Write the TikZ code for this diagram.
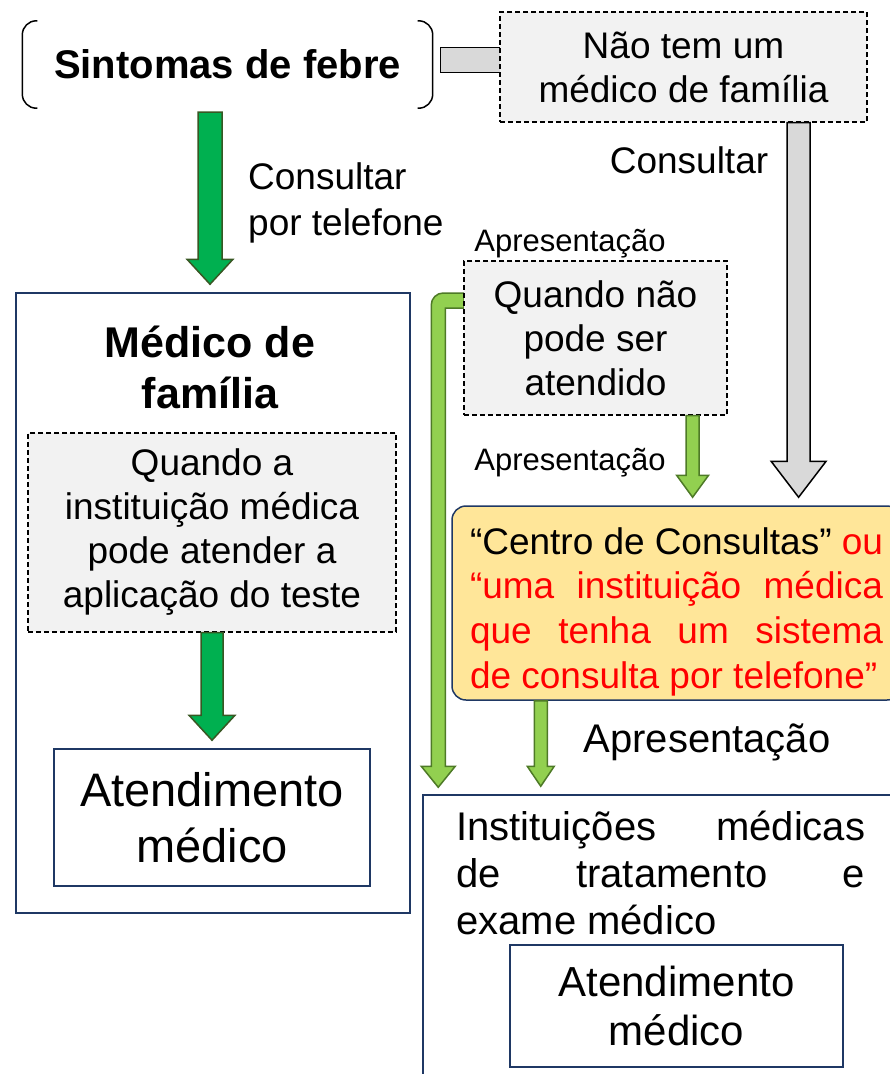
\documentclass[tikz,border=0pt]{standalone}
\usepackage{fontspec}
\setmainfont{Liberation Sans}
\usetikzlibrary{calc}
\definecolor{navy}{HTML}{1F3864}
\definecolor{dkgreen}{HTML}{00B050}
\definecolor{dkgreenline}{HTML}{385723}
\definecolor{ltgreen}{HTML}{92D050}
\definecolor{ltgreenline}{HTML}{4E7A27}
\definecolor{boxgray}{HTML}{F2F2F2}
\definecolor{bargray}{HTML}{D9D9D9}
\definecolor{notegold}{HTML}{FFE699}
\definecolor{warnred}{HTML}{FF0000}
\def\fatdown[#1](#2)(#3)(#4:#5:#6){\path (#2|-#3) ++(0,-8) coordinate (fd tip);
	\draw[#1] ($(#2)+(-#4,0)$) -- ($(fd tip)+(-#4,-#6)$) -- ($(fd tip)+(-#5,-#6)$) -- (fd tip) -- ($(fd tip)+(#5,-#6)$) -- ($(fd tip)+(#4,-#6)$) -- ($(#2)+(#4,0)$) -- cycle;}
\tikzset{
	body/.style={font=\fontsize{37}{44}\selectfont},
	head/.style={font=\bfseries\fontsize{40}{51}\selectfont},
	tag/.style={font=\fontsize{31}{37}\selectfont},
	big/.style={font=\fontsize{47}{56}\selectfont},
	frame/.style={draw=navy, line width=1.5pt},
	dashbox/.style={draw=black, fill=boxgray, line width=1.2pt, dash pattern=on 5pt off 3pt, inner sep=0pt},
	darkarrow/.style={fill=dkgreen, draw=dkgreenline, line width=1.5pt},
	lightarrow/.style={fill=ltgreen, draw=ltgreenline, line width=1.5pt},
	grayarrow/.style={fill=bargray, draw=black, line width=1.5pt},
}

\begin{document}
\begin{tikzpicture}[x=1pt, y=-1pt, inner sep=0pt]
			%%%%% START %%%%%
			\useasboundingbox (0,0) rectangle (890,1074);
			
			\node[head, minimum width=410, minimum height=87] (sintomas) at (227.5,64.5) {Sintomas de febre};
			\draw[line width=1.5pt, rounded corners=14] ([xshift=15]sintomas.north west) -- (sintomas.north west) -- (sintomas.south west) -- ([xshift=15]sintomas.south west);
			\draw[line width=1.5pt, rounded corners=14] ([xshift=-15]sintomas.north east) -- (sintomas.north east) -- (sintomas.south east) -- ([xshift=-15]sintomas.south east);
			
			\draw[grayarrow] ($(sintomas.east)+(8,-17)$) rectangle ($(sintomas.east)+(75,8)$);
			\node[dashbox, body, align=center, minimum width=367, minimum height=110] (notfam) at (683.5,67) {Não tem um\\médico de família};
			
			\node[body] (consult) at (689,160) {Consultar};
			\node[body, anchor=west, align=left, font=\fontsize{37}{46}\selectfont] (consultel) at (248,203) {Consultar\\por telefone};
			
			% family doctor side
			\node[frame, minimum width=394, minimum height=620] (medfam) at (213,603) {};
			\node[head, align=center, font=\bfseries\fontsize{43}{51}\selectfont] (medtitle) at (210,367) {Médico de\\família};
			\node[dashbox, body, align=center, minimum width=368, minimum height=199] (cond1) at (212,532.5) {Quando a\\instituição médica\\pode atender a\\aplicação do teste};
			\node[frame, big, align=center, minimum width=316, minimum height=137] (atend1) at (212,817.5) {Atendimento\\médico};
			
			\coordinate (s1) at ($(medfam.north |- sintomas.south)+(-3,4)$);
			\fatdown[darkarrow](s1)(medfam.north)(12:23:25)
			\fatdown[darkarrow](cond1.south)(atend1.north)(11:23:25)
			
			% consultation centre side
			\node[frame, minimum width=478, minimum height=285] (instit) at (662,937.5) {};
			\coordinate (lbend) at (instit.north west |- 464,261);
			\draw[lightarrow] (464,293) [rounded corners=12] -- ($(lbend)+(9,32)$) [sharp corners] -- ($(instit.north west)+(9,-28)$) -- ($(instit.north west)+(-1,-28)$) -- ($(instit.north west)+(16,-7)$) -- ($(instit.north west)+(33,-28)$) -- ($(instit.north west)+(23,-28)$) -- ($(lbend)+(23,47)$) -- (464,308) -- cycle;
			
			\node[tag] (apres1) at (570,244) {Apresentação};
			\node[dashbox, body, align=center, minimum width=263, minimum height=154] (naoat) at (595.5,338) {Quando não\\pode ser\\atendido};
			\node[tag] (apres2) at (570,463) {Apresentação};
			
			\node[frame, fill=notegold, rounded corners=14, font=\fontsize{37}{44.7}\selectfont, text width=413, inner xsep=18pt, minimum height=194, align=justify, text=warnred] (centro) at (676.5,603) {\rule{0pt}{44pt}\textcolor{black}{“Centro de Consultas”} ou\linebreak “uma instituição médica\linebreak que tenha um sistema\linebreak de consulta por telefone”};
			
			\coordinate (s3) at ($(notfam.south east)+(-69,0)$);
			\fatdown[grayarrow](s3)(centro.north)(11.5:27.5:36)
			\coordinate (s4) at ($(naoat.south east)+(-35,0)$);
			\fatdown[lightarrow](s4)(centro.north)(6.5:16:22)
			\coordinate (s5) at ($(centro.south west)+(89.5,0)$);
			\fatdown[lightarrow](s5)(instit.north)(6.5:13.5:20)
			\node[font=\fontsize{40}{48}\selectfont] (apres3) at (707,742) {Apresentação};
			
			\node[anchor=north west, text width=409, align=justify, font=\fontsize{40}{47}\selectfont] (instxt) at (456,811) {Instituições médicas\linebreak de tratamento e\linebreak exame médico};
			\node[frame, align=center, font=\fontsize{42}{49}\selectfont, minimum width=333, minimum height=122] (atend2) at (676.5,1006) {Atendimento\\médico};
			
			%%%%% END %%%%%
\end{tikzpicture}
\end{document}
